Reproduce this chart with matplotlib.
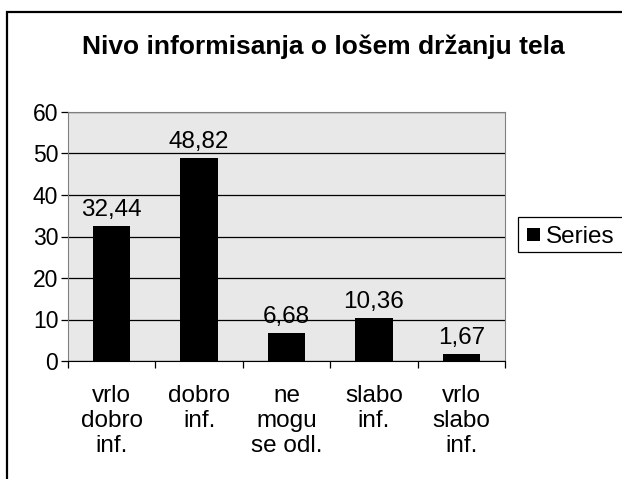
import matplotlib
matplotlib.use("Agg")
import matplotlib.pyplot as plt
from matplotlib.patches import Rectangle

categories = ["vrlo\ndobro\ninf.", "dobro\ninf.", "ne\nmogu\nse odl.", "slabo\ninf.", "vrlo\nslabo\ninf."]
values = [32.44, 48.82, 6.68, 10.36, 1.67]
value_labels = ["32,44", "48,82", "6,68", "10,36", "1,67"]
yticks = [0, 10, 20, 30, 40, 50, 60]
series_name = "Series"  # legend entry, cut off by the chart edge in the original

plt.rcParams["font.family"] = ["Liberation Sans", "DejaVu Sans"]

W, H = 622, 479
fig = plt.figure(figsize=(W / 100, H / 100), dpi=100)
ax = fig.add_axes([68 / W, 1 - 361 / H, (505 - 68) / W, (361 - 112) / H])

# outer chart frame (cut off at right / bottom)
fig.patches.append(Rectangle((7.5 / W, -0.1), 1.2, 1 - 11.5 / H + 0.1,
                             transform=fig.transFigure, fill=False,
                             edgecolor="black", linewidth=1.6))

x = list(range(len(values)))
ax.bar(x, values, width=0.43, color="black", zorder=3)
for xi, v, lab in zip(x, values, value_labels):
    ax.annotate(lab, (xi, v), xytext=(0, 7.5), textcoords="offset points",
                ha="center", va="baseline", fontsize=17.5)

ax.set_facecolor("#e8e8e8")
ax.set_xlim(-0.5, len(values) - 0.5)
ax.set_ylim(0, 60)
ax.set_yticks(yticks)
ax.set_yticklabels([str(t) for t in yticks], fontsize=16.5)
ax.yaxis.grid(True, color="black", linewidth=0.9, zorder=1)
ax.set_axisbelow(True)
ax.tick_params(axis="y", direction="out", length=5, width=0.9, pad=2)

# category boundary ticks
ax.set_xticks([i - 0.5 for i in range(len(values) + 1)])
ax.set_xticklabels([])
ax.tick_params(axis="x", direction="out", length=5, width=0.9)
for xi, c in zip(x, categories):
    ax.annotate(c, (xi, 0), xycoords=("data", "axes fraction"),
                xytext=(0, -17.5), textcoords="offset points",
                ha="center", va="top", fontsize=17.5, linespacing=1.18)

for side in ["top", "right", "left"]:
    ax.spines[side].set_color("#808080")
ax.spines["bottom"].set_color("black")

fig.text(323 / W, 1 - 54 / H, "Nivo informisanja o lošem držanju tela",
         ha="center", va="baseline", fontsize=19, fontweight="bold")

# legend box running off the right edge, like the original
fig.patches.append(Rectangle((518 / W, 1 - 252 / H), 130 / W, 35 / H,
                             transform=fig.transFigure, facecolor="white",
                             edgecolor="black", linewidth=0.9))
fig.patches.append(Rectangle((527 / W, 1 - 241 / H), 13 / W, 13 / H,
                             transform=fig.transFigure, facecolor="black",
                             edgecolor="none"))
fig.text(546 / W, 1 - 234.5 / H, series_name, ha="left", va="center_baseline",
         fontsize=17.5)

fig.savefig("out.png", dpi=100)
